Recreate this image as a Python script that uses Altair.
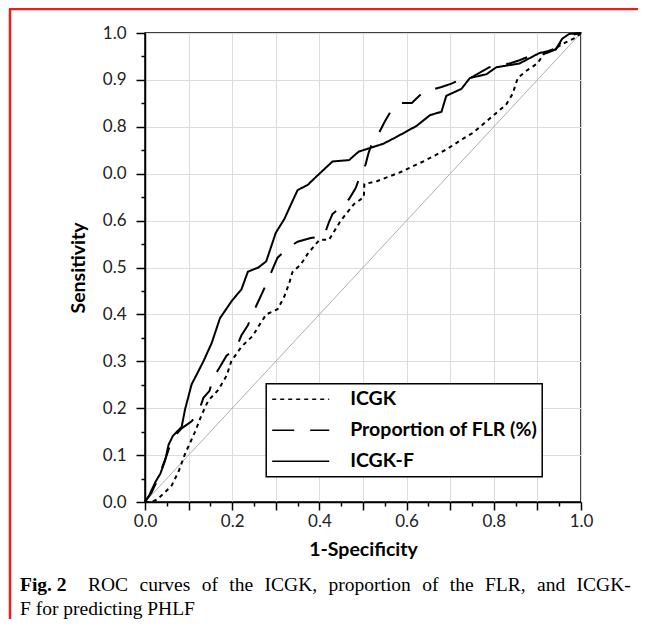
import altair as alt
import pandas as pd

# ---------------- data ----------------
series_names = ["ICGK", "Proportion of FLR (%)", "ICGK-F"]

icgk_fpr = [0.0, 0.015, 0.027, 0.045, 0.061, 0.077, 0.092, 0.114, 0.13, 0.145, 0.168, 0.187, 0.198,
            0.221, 0.247, 0.262, 0.278, 0.304, 0.319, 0.331, 0.338, 0.357, 0.373, 0.40, 0.422, 0.449,
            0.479, 0.502, 0.503, 0.532, 0.585, 0.638, 0.692, 0.73, 0.752, 0.79, 0.828, 0.843, 0.855,
            0.874, 0.9, 0.916, 0.942, 0.965, 0.987, 1.0]
icgk_tpr = [0.0, 0.0, 0.005, 0.02, 0.035, 0.065, 0.103, 0.148, 0.186, 0.216, 0.239, 0.269, 0.30,
            0.331, 0.354, 0.377, 0.40, 0.411, 0.437, 0.467, 0.49, 0.506, 0.529, 0.559, 0.559, 0.60,
            0.635, 0.65, 0.678, 0.684, 0.703, 0.726, 0.752, 0.775, 0.787, 0.817, 0.847, 0.87, 0.904,
            0.919, 0.935, 0.957, 0.968, 0.98, 0.99, 1.0]

flr_fpr = [0.0, 0.015, 0.03, 0.05, 0.062, 0.084, 0.107, 0.122, 0.134, 0.148, 0.156, 0.17, 0.187,
           0.21, 0.221, 0.236, 0.255, 0.278, 0.297, 0.304, 0.331, 0.35, 0.38, 0.41, 0.422, 0.43,
           0.452, 0.468, 0.483, 0.494, 0.506, 0.513, 0.525, 0.536, 0.551, 0.563, 0.585, 0.612, 0.638,
           0.68, 0.703, 0.73, 0.752, 0.79, 0.805, 0.836, 0.859, 0.889, 0.92, 0.942, 0.957, 0.973, 1.0]
flr_tpr = [0.0, 0.02, 0.05, 0.1, 0.135, 0.157, 0.172, 0.19, 0.222, 0.237, 0.265, 0.285, 0.312,
           0.33, 0.355, 0.377, 0.418, 0.464, 0.506, 0.521, 0.544, 0.555, 0.563, 0.566, 0.597, 0.614,
           0.631, 0.646, 0.669, 0.697, 0.72, 0.745, 0.775, 0.786, 0.813, 0.832, 0.851, 0.851, 0.874,
           0.885, 0.892, 0.904, 0.907, 0.927, 0.93, 0.935, 0.942, 0.953, 0.957, 0.965, 0.984, 0.995, 1.0]

icgkf_fpr = [0.0, 0.01, 0.024, 0.035, 0.046, 0.054, 0.064, 0.084, 0.092, 0.107, 0.122, 0.134, 0.153,
             0.172, 0.2, 0.221, 0.236, 0.26, 0.278, 0.30, 0.32, 0.335, 0.35, 0.373, 0.40, 0.43, 0.468,
             0.49, 0.547, 0.578, 0.623, 0.654, 0.68, 0.691, 0.726, 0.745, 0.783, 0.806, 0.859, 0.904,
             0.942, 0.957, 0.973, 1.0]
icgkf_tpr = [0.0, 0.015, 0.043, 0.06, 0.088, 0.122, 0.141, 0.16, 0.198, 0.251, 0.278, 0.30, 0.339,
             0.392, 0.43, 0.453, 0.491, 0.50, 0.513, 0.574, 0.604, 0.635, 0.665, 0.676, 0.70, 0.726, 0.729,
             0.747, 0.764, 0.779, 0.802, 0.825, 0.832, 0.866, 0.881, 0.904, 0.912, 0.927, 0.935, 0.957,
             0.965, 0.988, 0.998, 1.0]

diag_values = [0.0, 1.0]

y_tick_labels = ["0.0", "0.1", "0.2", "0.3", "0.4", "0.5", "0.6", "0.0", "0.8", "0.9", "1.0"]
x_tick_labels = ["0.0", "0.2", "0.4", "0.6", "0.8", "1.0"]

x_title = "1-Specificity"
y_title = "Sensitivity"
caption_bold = "Fig. 2"
caption_line1 = "ROC curves of the ICGK, proportion of the FLR, and ICGK-"
caption_line2 = "F for predicting PHLF"

# ---------------- layout ----------------
W, H = 436, 469
PAD_L, PAD_T, PAD_R, PAD_B = 137, 25, 57, 117
FONT = "Lato"
CAP_FONT = "Liberation Serif"
CAP_SIZE = 19.5

rows = []
for name, fx, fy in zip(series_names, [icgk_fpr, flr_fpr, icgkf_fpr], [icgk_tpr, flr_tpr, icgkf_tpr]):
    for i, (a, b) in enumerate(zip(fx, fy)):
        rows.append({"series": name, "fpr": a, "tpr": b, "idx": i})
df = pd.DataFrame(rows)
diag_df = pd.DataFrame({"fpr": diag_values, "tpr": diag_values})

ticks = [i / 20 for i in range(21)]
minor = "round(datum.value*20)%2==1"
ylab_js = "[" + ",".join("'%s'" % s for s in y_tick_labels) + "]"
xlab_js = "[" + ",".join("'%s'" % s for s in x_tick_labels) + "]"

common_axis = dict(
    values=ticks,
    domainColor="black", domainWidth=1.5,
    tickColor="black", tickWidth=1.5,
    gridColor="#dcdcdc", gridWidth=1,
    gridOpacity={"condition": {"test": minor, "value": 0}, "value": 1},
    labelFont=FONT, labelFontSize=17, labelColor="#222222",
    labelOverlap=False, labelBound=False, labelFlush=False,
    titleFont=FONT, titleFontSize=19.5, titleFontWeight="bold", titleColor="black",
)

x_axis = alt.Axis(
    title=x_title,
    labelExpr="round(datum.value*20)%4==0 ? " + xlab_js + "[round(datum.value*5)] : ''",
    tickSize={"condition": {"test": minor, "value": 4}, "value": 8},
    labelPadding=3, titlePadding=11,
    **common_axis,
)
y_axis = alt.Axis(
    title=y_title,
    labelExpr="round(datum.value*20)%2==1 ? '' : " + ylab_js + "[round(datum.value*10)]",
    tickSize={"condition": {"test": minor, "value": 4}, "value": 9},
    labelPadding=10, titlePadding=14,
    **common_axis,
)

xs = alt.Scale(domain=[0, 1], nice=False)
ys = alt.Scale(domain=[0, 1], nice=False)

diag = alt.Chart(diag_df).mark_line(color="#9a9a9a", strokeWidth=0.8).encode(
    x=alt.X("fpr:Q", scale=xs, axis=x_axis),
    y=alt.Y("tpr:Q", scale=ys, axis=y_axis),
)

curves = alt.Chart(df).mark_line(color="black", strokeWidth=2).encode(
    x=alt.X("fpr:Q", scale=xs, axis=x_axis),
    y=alt.Y("tpr:Q", scale=ys, axis=y_axis),
    order=alt.Order("idx:Q"),
    strokeDash=alt.StrokeDash(
        "series:N",
        scale=alt.Scale(domain=series_names, range=[[4, 4], [22, 16], [1, 0]]),
        legend=alt.Legend(
            title=None, orient="none",
            legendX=0.278 * W, legendY=(1 - 0.252) * H,
            direction="vertical",
            symbolType="stroke", symbolSize=3249, symbolStrokeWidth=1.5,
            symbolStrokeColor="black",
            labelFont=FONT, labelFontSize=19.5, labelFontWeight="bold", labelColor="black",
            labelOffset=20, labelLimit=400,
            rowPadding=10, clipHeight=21, padding=5,
            strokeColor="black", fillColor="white",
        ),
    ),
)

one = alt.Data(values=[{}])
red_left = alt.Chart(one).mark_rule(color="#ee1c1c", strokeWidth=2.5).encode(
    x=alt.value(-135), y=alt.value(-24), y2=alt.value(H + PAD_B)
)
red_top = alt.Chart(one).mark_rule(color="#ee1c1c", strokeWidth=2.5).encode(
    x=alt.value(-136), x2=alt.value(W + PAD_R), y=alt.value(-24)
)

line1_text = caption_line1.replace(" ", "\u2002\u200a")
cap_bold = alt.Chart(one).mark_text(
    align="left", baseline="alphabetic", font=CAP_FONT, fontSize=CAP_SIZE, fontWeight="bold", color="black"
).encode(x=alt.value(-125), y=alt.value(558), text=alt.value(caption_bold))
cap1 = alt.Chart(one).mark_text(
    align="left", baseline="alphabetic", font=CAP_FONT, fontSize=CAP_SIZE, color="black"
).encode(x=alt.value(-57), y=alt.value(558), text=alt.value(line1_text))
cap2 = alt.Chart(one).mark_text(
    align="left", baseline="alphabetic", font=CAP_FONT, fontSize=CAP_SIZE, color="black"
).encode(x=alt.value(-125), y=alt.value(581.5), text=alt.value(caption_line2))

chart = alt.layer(diag, curves, red_left, red_top, cap_bold, cap1, cap2).properties(
    width=W, height=H,
    autosize=alt.AutoSizeParams(type="none"),
    padding={"left": PAD_L, "top": PAD_T, "right": PAD_R, "bottom": PAD_B},
).configure_view(stroke="black", strokeWidth=1.5).configure_legend(strokeWidth=1.5)

chart.save("out.html", embed_options={"renderer": "svg", "actions": False})
